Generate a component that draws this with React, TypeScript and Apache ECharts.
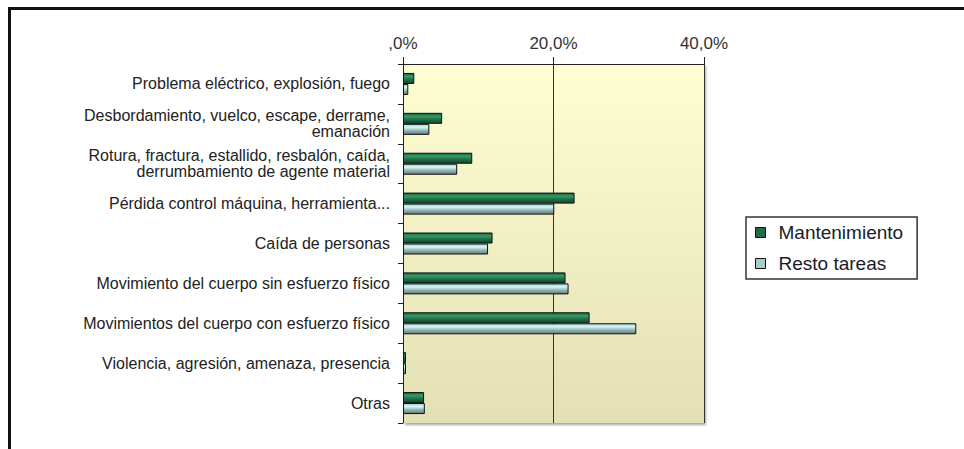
import React, { useEffect, useRef } from "react";
import * as echarts from "echarts";

const categories = [
  "Problema eléctrico, explosión, fuego",
  "Desbordamiento, vuelco, escape, derrame,\nemanación",
  "Rotura, fractura, estallido, resbalón, caída,\nderrumbamiento de agente material",
  "Pérdida control máquina, herramienta...",
  "Caída de personas",
  "Movimiento del cuerpo sin esfuerzo físico",
  "Movimientos del cuerpo con esfuerzo físico",
  "Violencia, agresión, amenaza, presencia",
  "Otras",
];
const mantenimiento = [1.5, 5.2, 9.2, 22.8, 11.9, 21.6, 24.8, 0.4, 2.8];
const restoTareas = [0.7, 3.5, 7.2, 20.1, 11.3, 22.0, 31.0, 0.4, 2.9];
const tickLabels: Record<number, string> = { 0: ",0%", 20: "20,0%", 40: "40,0%" };

const FONT = "'Liberation Sans', Arial, sans-serif";

export default function App() {
  const ref = useRef<HTMLDivElement>(null);
  useEffect(() => {
    if (!ref.current) return;
    const chart = echarts.init(ref.current, null, { renderer: "svg" });
    const greenGrad = new echarts.graphic.LinearGradient(0, 0, 0, 1, [
      { offset: 0, color: "#145c38" },
      { offset: 0.3, color: "#3a9a68" },
      { offset: 0.6, color: "#1f7047" },
      { offset: 1, color: "#0f4a2b" },
    ]);
    const greyGrad = new echarts.graphic.LinearGradient(0, 0, 0, 1, [
      { offset: 0, color: "#a9d4d4" },
      { offset: 0.3, color: "#d6f7f7" },
      { offset: 0.65, color: "#8fb0b0" },
      { offset: 1, color: "#647c7c" },
    ]);
    chart.setOption({
      animation: false,
      backgroundColor: "#ffffff",
      textStyle: { fontFamily: FONT },
      grid: {
        left: 403,
        top: 64,
        right: 260,
        bottom: 26,
        show: true,
        borderWidth: 0,
        backgroundColor: new echarts.graphic.LinearGradient(0, 0, 0, 1, [
          { offset: 0, color: "#fffdd2" },
          { offset: 1, color: "#e3e0b6" },
        ]),
        shadowColor: "rgba(0,0,0,0.35)",
        shadowBlur: 2,
        shadowOffsetX: 2,
        shadowOffsetY: 2,
      },
      legend: {
        orient: "vertical",
        left: 746,
        top: 217,
        padding: [6, 14, 6, 9],
        itemGap: 12,
        itemWidth: 10,
        itemHeight: 10,
        icon: "rect",
        borderColor: "#333",
        borderWidth: 1.5,
        backgroundColor: "#fff",
        textStyle: { fontSize: 19, color: "#1a1a2a", fontFamily: FONT, padding: [0, 0, 0, 8] },
        data: [
          { name: "Mantenimiento", icon: "rect", itemStyle: { color: "#1f6b45", borderColor: "#111", borderWidth: 1 } },
          { name: "Resto tareas", icon: "rect", itemStyle: { color: "#a8cccc", borderColor: "#111", borderWidth: 1 } },
        ],
      },
      xAxis: {
        type: "value",
        position: "top",
        min: 0,
        max: 40,
        interval: 20,
        axisLine: { show: true, lineStyle: { color: "#222", width: 1 } },
        axisTick: { show: true, length: 7, lineStyle: { color: "#222" } },
        splitLine: { show: true, lineStyle: { color: "#333", width: 1 } },
        axisLabel: {
          fontSize: 17,
          color: "#333",
          margin: 12,
          fontFamily: FONT,
          formatter: (v: number) => tickLabels[v] ?? String(v),
        },
      },
      yAxis: {
        type: "category",
        inverse: true,
        data: categories,
        axisLine: { show: true, lineStyle: { color: "#222", width: 1 } },
        axisTick: { show: true, length: 5, lineStyle: { color: "#222" } },
        axisLabel: {
          fontSize: 16,
          color: "#222",
          margin: 13,
          lineHeight: 16,
          align: "right",
          fontFamily: FONT,
        },
      },
      series: [
        {
          name: "Mantenimiento",
          type: "bar",
          data: mantenimiento,
          barWidth: 11,
          barGap: "0%",
          itemStyle: { color: greenGrad, borderColor: "#111", borderWidth: 1 },
        },
        {
          name: "Resto tareas",
          type: "bar",
          data: restoTareas,
          barWidth: 11,
          barGap: "0%",
          itemStyle: { color: greyGrad, borderColor: "#111", borderWidth: 1 },
        },
      ],
      graphic: [
        { type: "line", shape: { x1: 8, y1: 8.5, x2: 964, y2: 8.5 }, style: { stroke: "#111", lineWidth: 3 } },
        { type: "line", shape: { x1: 9.5, y1: 7, x2: 9.5, y2: 449 }, style: { stroke: "#111", lineWidth: 3 } },
      ],
    });
    return () => chart.dispose();
  }, []);
  return (
    <div
      ref={ref}
      style={{ position: "absolute", left: 0, top: 0, width: 964, height: 449 }}
    />
  );
}
